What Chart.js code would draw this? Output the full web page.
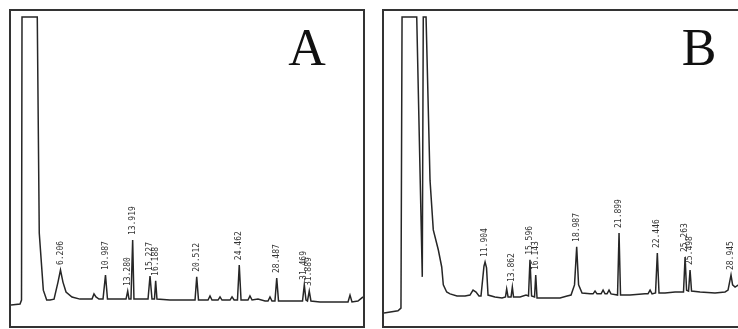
<!DOCTYPE html>
<html>
<head>
<meta charset="utf-8">
<script src="https://cdn.jsdelivr.net/npm/chart.js@4/dist/chart.umd.min.js"></script>
<style>
	html, body { margin: 0; padding: 0; background: #fff; overflow: hidden; width: 738px; height: 329px; }
	.panel { position: absolute; border: 2px solid #333; }
	.panel canvas { display: block; }
</style>
</head>
<body>
<div class="panel" style="left:9px;top:9px;width:352px;height:315px"><canvas id="chartA" width="352" height="315"></canvas></div>
<div class="panel" style="left:382px;top:9px;width:360px;height:315px"><canvas id="chartB" width="360" height="315"></canvas></div>
<script>
// retention time (min) and detector signal (% of full scale)
var timeA = [1.50, 2.41, 2.56, 2.61, 4.15, 4.35, 4.76, 5.10, 5.43, 5.84, 6.24, 6.49, 6.74, 7.05, 7.65, 8.46,
	9.67, 9.87, 10.07, 10.37, 10.78, 11.03, 11.23, 11.99, 12.90, 13.10, 13.27, 13.40, 13.60, 13.77, 13.90,
	14.51, 15.32, 15.52, 15.72, 15.97, 16.09, 16.22, 17.53, 19.55, 20.06, 20.23, 20.41, 21.37, 21.57, 21.77,
	22.38, 22.58, 22.78, 23.59, 23.79, 24.00, 24.34, 24.52, 24.70, 25.40, 25.60, 25.81, 26.41, 27.12, 27.42,
	27.62, 27.82, 28.12, 28.30, 28.48, 29.63, 30.90, 31.08, 31.25, 31.40, 31.58, 31.75, 32.66, 34.17, 35.49,
	35.69, 35.89, 36.49, 37.00];
var signalA = [6.8, 7.1, 8.4, 100, 100, 30.1, 11.6, 8.4, 8.4, 8.7, 14.2, 18.1, 14.2, 11.0, 9.4, 8.7,
	8.7, 10.4, 9.4, 8.7, 8.7, 16.5, 8.7, 8.7, 8.7, 8.7, 11.3, 8.7, 8.7, 27.8, 8.7,
	8.7, 8.7, 16.2, 8.7, 8.7, 14.6, 8.7, 8.4, 8.4, 8.4, 15.9, 8.4, 8.4, 9.7, 8.4,
	8.4, 9.4, 8.4, 8.4, 9.4, 8.4, 8.4, 19.7, 8.4, 8.4, 9.7, 8.4, 8.7, 8.1, 8.1,
	9.4, 8.1, 8.1, 15.5, 8.1, 8.1, 8.1, 13.3, 8.4, 8.1, 11.3, 8.1, 7.8, 7.8, 7.8,
	10.0, 7.8, 8.1, 9.4];
var peakTimeA = [6.49, 11.03, 13.27, 13.77, 15.52, 16.09, 20.23, 24.52, 28.30, 31.08, 31.58];
var peakLabelA = ['6.206', '10.987', '13.280', '13.919', '15.227', '16.188', '20.512', '24.462', '28.487', '31.469', '31.889'];

var timeB = [1.50, 2.91, 3.21, 3.32, 4.80, 5.36, 5.46, 5.74, 6.14, 6.47, 6.98, 7.32, 7.48, 7.82, 8.16, 8.86,
	9.67, 10.17, 10.48, 10.78, 11.08, 11.28, 11.58, 11.69, 11.84, 11.99, 12.69, 13.40, 13.75, 13.87, 14.01,
	14.31, 14.44, 14.56, 15.22, 15.82, 16.07, 16.22, 16.38, 16.68, 16.80, 16.93, 17.74, 19.25, 19.96, 20.36,
	20.71, 20.93, 21.12, 21.47, 22.28, 22.58, 22.78, 22.98, 23.39, 23.59, 23.79, 23.99, 24.19, 24.39, 25.05,
	25.20, 25.35, 26.31, 27.82, 28.12, 28.33, 28.53, 28.88, 29.06, 29.23, 29.84, 30.85, 31.70, 31.86, 32.01,
	32.21, 32.36, 32.51, 33.37, 34.88, 35.89, 36.19, 36.49, 36.65, 36.90, 37.40];
var signalB = [4.2, 4.9, 5.8, 100, 100, 15.9, 100, 100, 47.2, 31.1, 24.6, 19.1, 13.3, 11.0, 10.4, 9.7,
	9.7, 10.0, 11.6, 11.0, 9.7, 9.7, 19.4, 20.7, 18.8, 10.0, 9.4, 9.1, 9.4, 12.0, 9.4,
	9.4, 12.6, 9.4, 9.4, 10.0, 9.7, 21.4, 9.7, 9.4, 16.5, 9.1, 9.1, 9.1, 9.7, 10.0,
	13.3, 25.6, 13.3, 10.7, 10.4, 10.4, 11.3, 10.4, 10.4, 11.6, 10.4, 10.4, 11.6, 10.4, 10.0,
	30.1, 10.0, 10.0, 10.4, 10.4, 11.6, 10.4, 10.7, 23.6, 10.7, 10.7, 11.0, 11.0, 22.3, 11.6,
	11.3, 18.1, 11.3, 11.0, 10.7, 11.0, 11.6, 16.5, 13.3, 12.6, 13.6];
var peakTimeB = [11.69, 14.44, 16.22, 16.80, 20.93, 25.20, 29.06, 31.86, 32.36, 36.49];
var peakLabelB = ['11.904', '13.862', '15.596', '16.143', '18.987', '21.899', '22.446', '25.263', '25.498', '28.945'];

var toPoints = function (times, values) {
	return times.map(function (t, i) {
		return { x: t, y: values[i] };
	});
};

// vertical retention-time labels above each peak
var peakLabels = {
	id: 'peakLabels',
	afterDatasetsDraw: function (chart, args, opts) {
		var ctx = chart.ctx;
		var data = chart.config.data.datasets[0].data;
		ctx.save();
		ctx.font = '8px "DejaVu Sans Mono"';
		ctx.fillStyle = '#333';
		ctx.textAlign = 'left';
		ctx.textBaseline = 'middle';
		opts.times.forEach(function (t, i) {
			var pt = data.find(function (d) { return d.x === t; });
			var px = chart.scales.x.getPixelForValue(t);
			var py = chart.scales.y.getPixelForValue(pt.y);
			ctx.save();
			ctx.translate(px, py - 5);
			ctx.rotate(-Math.PI / 2);
			ctx.fillText(opts.labels[i], 0, 0);
			ctx.restore();
		});
		ctx.restore();
	}
};

// panel letter
var panelLetter = {
	id: 'panelLetter',
	afterDraw: function (chart, args, opts) {
		var ctx = chart.ctx;
		ctx.save();
		ctx.font = '52px "Liberation Serif"';
		ctx.fillStyle = '#111';
		ctx.textAlign = 'center';
		ctx.textBaseline = 'alphabetic';
		ctx.fillText(opts.text, chart.chartArea.left + opts.dx, chart.chartArea.top + opts.dy);
		ctx.restore();
	}
};

function makeChart(id, times, values, xMax, peakTimes, peakLabelsText, letter, letterX) {
	var ctx = document.getElementById(id).getContext('2d');
	return new Chart(ctx, {
		type: 'line',
		data: {
			datasets: [{
				data: toPoints(times, values),
				borderColor: '#262626',
				borderWidth: 1.5,
				pointRadius: 0,
				tension: 0,
				fill: false
			}]
		},
		options: {
			responsive: false,
			animation: false,
			devicePixelRatio: 1,
			layout: { padding: 0 },
			scales: {
				x: { type: 'linear', min: 1.5, max: xMax, display: false },
				y: { min: 0, max: 101.94, display: false }
			},
			plugins: {
				legend: { display: false },
				tooltip: { enabled: false },
				peakLabels: { times: peakTimes, labels: peakLabelsText },
				panelLetter: { text: letter, dx: letterX, dy: 54 }
			}
		},
		plugins: [peakLabels, panelLetter]
	});
}

makeChart('chartA', timeA, signalA, 37.0, peakTimeA, peakLabelA, 'A', 296);
makeChart('chartB', timeB, signalB, 37.8, peakTimeB, peakLabelB, 'B', 315);
</script>
</body>
</html>
